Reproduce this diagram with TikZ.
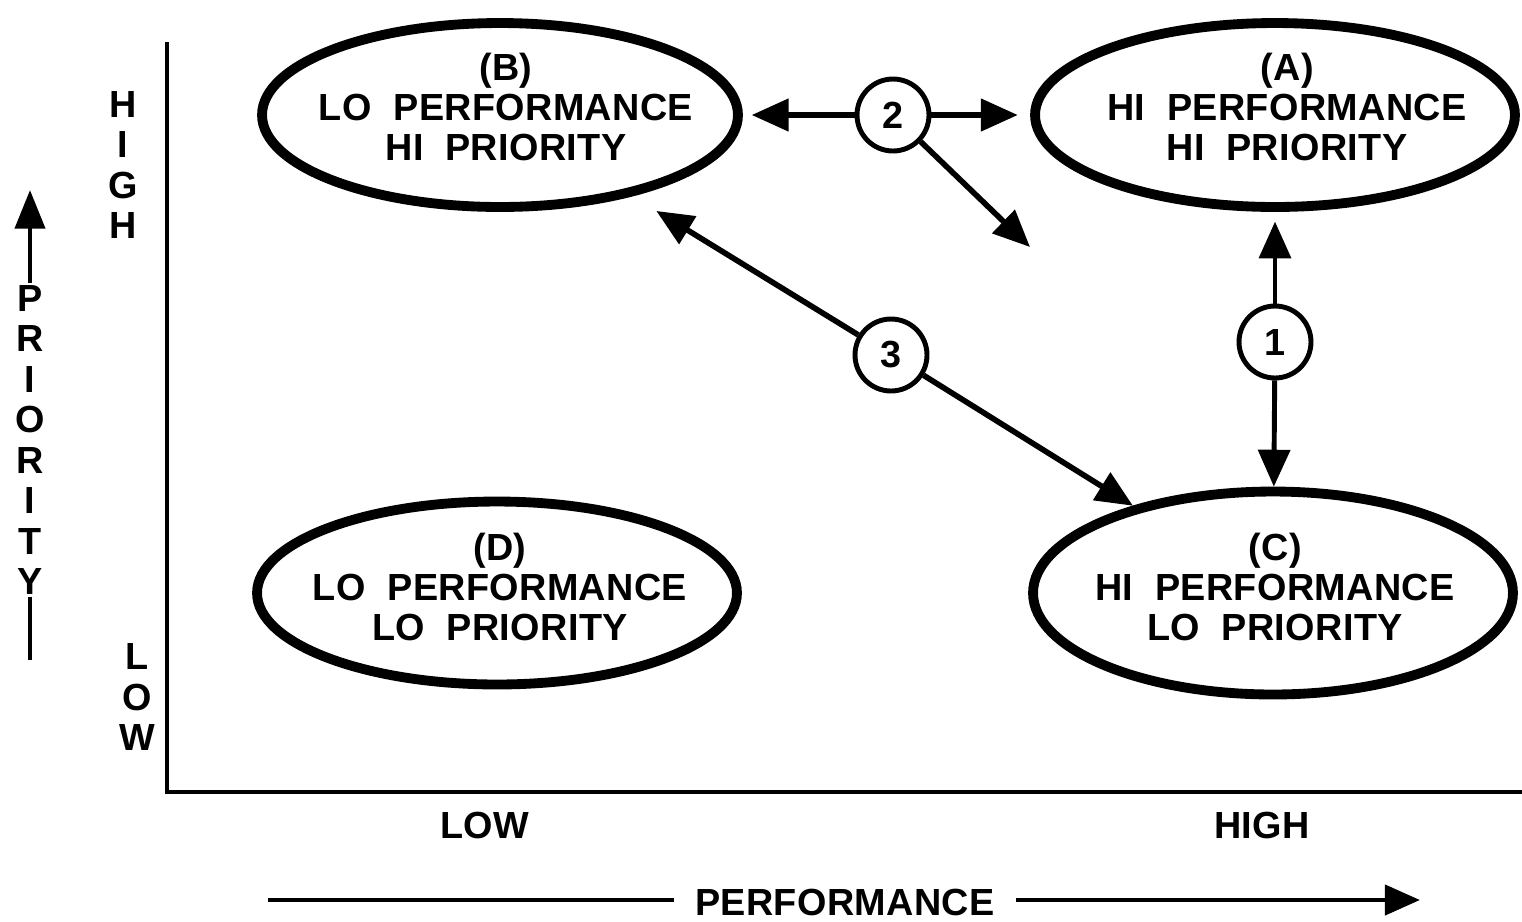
\documentclass[tikz,border=0pt]{standalone}
\usepackage{fontspec}
\setmainfont{Liberation Sans}
\newfontfamily\lbl{Liberation Sans}[LetterSpace=1,WordSpace=2]
\usetikzlibrary{shapes.geometric,arrows.meta}
\begin{document}
\begin{tikzpicture}[x=0.02cm,y=-0.02cm,
  txt/.style={font=\lbl\bfseries\fontsize{21.5}{22.5}\selectfont},
  quad/.style={ellipse,draw,line width=5.6pt,inner sep=0pt},
  qtext/.style={align=center,inner sep=0pt,txt},
  num/.style={circle,draw,line width=2.8pt,inner sep=0pt,minimum size=1.44cm,fill=white,txt},
  vlet/.style={align=center,inner sep=1pt,font=\lbl\bfseries\fontsize{21.5}{23}\selectfont},
  axisline/.style={line width=2.6pt},
  tip/.style={Triangle[length=21pt,width=18pt]},
  con/.style={line width=3.2pt,-{Triangle[length=21pt,width=18pt]}}
]
\useasboundingbox (0,0) rectangle (1522,921);
% axes
\coordinate (ytop) at (167,42);
\coordinate (orig) at (167,792);
\coordinate (xend) at (1522,792);
\draw[axisline] (ytop) -- (orig) -- (xend);
% quadrants
\node[quad,minimum width=9.52cm,minimum height=3.68cm] (B) at (500,115) {};
\node[qtext] (Bt) at (506,107) {(B)\\LO PERFORMANCE\\HI PRIORITY};
\node[quad,minimum width=9.6cm,minimum height=3.68cm] (A) at (1275,115) {};
\node[qtext] (At) at (1287,107) {(A)\\HI PERFORMANCE\\HI PRIORITY};
\node[quad,minimum width=9.6cm,minimum height=3.66cm] (D) at (497,593) {};
\node[qtext] (Dt) at (500,587) {(D)\\LO PERFORMANCE\\LO PRIORITY};
\node[quad,minimum width=9.6cm,minimum height=4.06cm] (C) at (1273,593) {};
\node[qtext] (Ct) at (1275,587) {(C)\\HI PERFORMANCE\\LO PRIORITY};
% numbered circles
\node[num] (c2) at (893,115) {2};
\node[num] (c3) at (891,355) {3};
\node[num] (c1) at (1275,342) {1};
\coordinate (t2) at (1030,247);
% connectors
\draw[con,shorten >=5pt] (c2) -- (B);
\draw[con,shorten >=7pt] (c2) -- (A);
\draw[con] (c2) -- (t2);
\draw[con,shorten >=16pt] (c3) -- (B);
\draw[con] (c3) -- (C);
\draw[con,line width=2.8pt,shorten >=5.5pt] (c1) -- (A);
\draw[con,line width=2.8pt] (c1) -- (C);
% axis labels
\node[vlet] (yhigh) at (123,165) {H\\I\\G\\H};
\node[vlet] (ylow) at (137,697) {L\\O\\W};
\node[vlet] (pri) at (30,440) {P\\R\\I\\O\\R\\I\\T\\Y};
\coordinate (pritip) at (30,190);
\coordinate (pribot) at (30,660);
\draw[line width=2.6pt,-{Triangle[length=22pt,width=17pt]}] (pri.north) -- (pritip);
\draw[line width=2.8pt] (pri.south) -- (pribot);
\node[txt] (xlow) at (485,825) {LOW};
\node[txt] (xhigh) at (1262,825) {HIGH};
\node[txt,inner sep=12pt] (perf) at (845,902) {PERFORMANCE};
\coordinate (perfl) at (268,900);
\coordinate (perfr) at (1420,900);
\draw[line width=2.8pt] (perf.west |- perfl) -- (perfl);
\draw[line width=2.8pt,-{Triangle[length=20pt,width=17pt]}] (perf.east |- perfr) -- (perfr);
\end{tikzpicture}
\end{document}
